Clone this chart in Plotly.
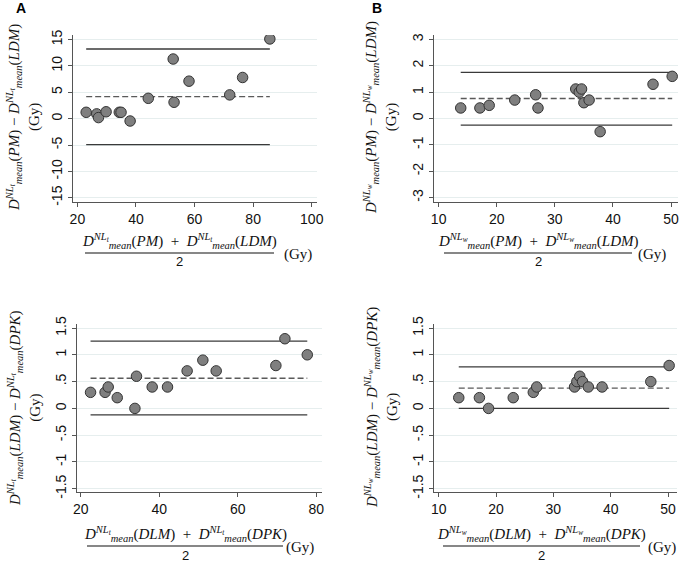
import plotly.graph_objects as go

W, H = 685, 562

# ---------------- data ----------------
# Panel A: NLt, PM vs LDM
a_mean_x = [23.0, 26.6, 27.2, 29.8, 34.3, 34.9, 38.0, 44.2, 52.7, 53.0, 58.1, 72.0, 76.4, 85.7]
a_diff_y = [1.2, 0.9, 0.2, 1.3, 1.2, 1.2, -0.45, 3.85, 11.3, 3.1, 7.1, 4.5, 7.8, 15.1]
a_limits = [13.2, 4.17, -4.93]  # upper LoA, mean bias, lower LoA

# Panel B: NLw, PM vs LDM
b_mean_x = [13.8, 17.1, 18.7, 23.1, 26.7, 27.1, 33.6, 34.2, 34.6, 35.0, 35.9, 37.8, 46.9, 50.2]
b_diff_y = [0.4, 0.4, 0.5, 0.7, 0.9, 0.4, 1.12, 1.0, 1.12, 0.6, 0.7, -0.5, 1.3, 1.6]
b_limits = [1.75, 0.76, -0.25]

# Panel C: NLt, LDM vs DPK
c_mean_x = [22.5, 26.2, 27.0, 29.3, 33.8, 34.2, 38.2, 42.1, 47.1, 51.1, 54.5, 69.7, 72.0, 77.7]
c_diff_y = [0.3, 0.3, 0.4, 0.2, 0.0, 0.6, 0.4, 0.4, 0.7, 0.9, 0.7, 0.8, 1.3, 1.0]
c_limits = [1.256, 0.5625, -0.12]

# Panel D: NLw, LDM vs DPK
d_mean_x = [13.5, 17.1, 18.7, 23.0, 26.5, 27.1, 33.7, 34.1, 34.6, 35.1, 36.1, 38.5, 47.0, 50.2]
d_diff_y = [0.2, 0.2, 0.0, 0.2, 0.3, 0.4, 0.4, 0.5, 0.6, 0.5, 0.4, 0.4, 0.5, 0.8]
d_limits = [0.775, 0.38, 0.0]

# tick labels
a_xticks = [20, 40, 60, 80, 100]
a_yticks = [-15, -10, -5, 0, 5, 10, 15]
a_yticktext = ["-15", "-10", "-5", "0", "5", "10", "15"]
b_xticks = [10, 20, 30, 40, 50]
b_yticks = [-3, -2, -1, 0, 1, 2, 3]
b_yticktext = ["-3", "-2", "-1", "0", "1", "2", "3"]
c_xticks = [20, 40, 60, 80]
cd_yticks = [-1.5, -1, -0.5, 0, 0.5, 1, 1.5]
cd_yticktext = ["-1.5", "-1", "-.5", "0", ".5", "1", "1.5"]
d_xticks = [10, 20, 30, 40, 50]

# ---------------- layout helpers ----------------
def px_x(p):
    return p / W

def px_y(p):
    return 1 - p / H

panels = [
    # (xs, ys, limits, xdomain px, ydomain px, xrange, yrange, xticks, yticks, yticktext)
    (a_mean_x, a_diff_y, a_limits, (73, 317), (35, 202), (18.5, 101.8), (-15.8, 15.85), a_xticks, a_yticks, a_yticktext),
    (b_mean_x, b_diff_y, b_limits, (434, 678), (35, 202), (9.2, 51.2), (-3.17, 3.17), b_xticks, b_yticks, b_yticktext),
    (c_mean_x, c_diff_y, c_limits, (77, 322), (324, 492), (19.05, 81.45), (-1.56, 1.575), c_xticks, cd_yticks, cd_yticktext),
    (d_mean_x, d_diff_y, d_limits, (434, 677), (324, 492), (9.18, 51.57), (-1.56, 1.575), d_xticks, cd_yticks, cd_yticktext),
]

AX_COLOR = "#555555"
GRID = "#e6eeee"
TICKFONT = dict(family="Liberation Sans, Arial, sans-serif", size=14, color="#111111")
MATHFONT = dict(family="Liberation Serif, DejaVu Serif, serif", size=15, color="#111111")

fig = go.Figure()
layout = dict(
    width=W, height=H,
    margin=dict(l=0, r=0, t=0, b=0, autoexpand=False),
    paper_bgcolor="white", plot_bgcolor="white",
    showlegend=False,
)

for i, (xs, ys, lim, xd, yd, xr, yr, xt, yt, ytt) in enumerate(panels, start=1):
    sfx = "" if i == 1 else str(i)
    xa, ya = "x" + sfx, "y" + sfx
    lo, hi = min(xs), max(xs)
    # limits of agreement (solid) and mean (dashed)
    for j, v in enumerate(lim):
        fig.add_trace(go.Scatter(
            x=[lo, hi], y=[v, v], mode="lines", xaxis=xa, yaxis=ya,
            line=dict(color="#3a3a3a" if j != 1 else "#5a5a5a", width=1.3,
                      dash="solid" if j != 1 else "6px,3px"),
            hoverinfo="skip"))
    fig.add_trace(go.Scatter(
        x=xs, y=ys, mode="markers", xaxis=xa, yaxis=ya,
        marker=dict(size=10.5, color="#7f7f7f", line=dict(color="#333333", width=1))))
    layout["xaxis" + sfx] = dict(
        domain=[px_x(xd[0]), px_x(xd[1])], range=list(xr), anchor=ya,
        tickvals=xt, ticks="outside", ticklen=4, tickcolor=AX_COLOR,
        showline=True, linecolor=AX_COLOR, linewidth=1, showgrid=False,
        zeroline=False, tickfont=TICKFONT, automargin=False)
    layout["yaxis" + sfx] = dict(
        domain=[px_y(yd[1]), px_y(yd[0])], range=list(yr), anchor=xa,
        tickvals=yt, ticktext=ytt, tickangle=-90, ticks="outside", ticklen=4,
        tickcolor=AX_COLOR, showline=True, linecolor=AX_COLOR, linewidth=1,
        showgrid=True, gridcolor=GRID, gridwidth=1, zeroline=False,
        tickfont=TICKFONT, automargin=False)


def dterm(sub, arg):
    return (f"<i>D</i><sup><i>NL</i><sub><i>{sub}</i></sub></sup>"
            f"<sub><i>mean</i></sub>(<i>{arg}</i>)")

annotations = []
shapes = []

# Panel letters
for letter, lx in (("A", 21), ("B", 377)):
    annotations.append(dict(text=f"<b>{letter}</b>", x=px_x(lx), y=px_y(8), xref="paper", yref="paper",
                            showarrow=False, xanchor="center", yanchor="middle",
                            font=dict(family="Liberation Sans, Arial", size=14, color="black")))

# Y titles
ytitles = [
    (dterm("t", "PM") + " − " + dterm("t", "LDM"), 23, 118),
    (dterm("w", "PM") + " − " + dterm("w", "LDM"), 380, 118),
    (dterm("t", "LDM") + " − " + dterm("t", "DPK"), 24, 408),
    (dterm("w", "LDM") + " − " + dterm("w", "DPK"), 381, 408),
]
for txt, cx, cy in ytitles:
    annotations.append(dict(text=txt + "<br>(Gy)", x=px_x(cx), y=px_y(cy), xref="paper", yref="paper",
                            textangle=-90, showarrow=False, xanchor="center", yanchor="middle",
                            align="center", font=MATHFONT))

# X titles (fraction)
xtitles = [
    (dterm("t", "PM") + "  +  " + dterm("t", "LDM"), 85, 274, 241, 253, 298),
    (dterm("w", "PM") + "  +  " + dterm("w", "LDM"), 444, 632, 241, 253, 652),
    (dterm("t", "DLM") + "  +  " + dterm("t", "DPK"), 87, 283, 534, 546, 300),
    (dterm("w", "DLM") + "  +  " + dterm("w", "DPK"), 443, 640, 534, 546, 662),
]
for txt, x0, x1, ny, by, gx in xtitles:
    cx = (x0 + x1) / 2
    annotations.append(dict(text=txt, x=px_x(cx), y=px_y(ny), xref="paper", yref="paper",
                            showarrow=False, xanchor="center", yanchor="middle", font=MATHFONT))
    shapes.append(dict(type="line", xref="paper", yref="paper", x0=px_x(x0), x1=px_x(x1),
                       y0=px_y(by), y1=px_y(by), line=dict(color="#111111", width=1.2)))
    annotations.append(dict(text="2", x=px_x(cx), y=px_y(by + 9), xref="paper", yref="paper",
                            showarrow=False, xanchor="center", yanchor="middle",
                            font=dict(family="Liberation Sans, Arial", size=13, color="#111111")))
    annotations.append(dict(text="(Gy)", x=px_x(gx), y=px_y(by + 1), xref="paper", yref="paper",
                            showarrow=False, xanchor="center", yanchor="middle", font=MATHFONT))

layout["annotations"] = annotations
layout["shapes"] = shapes
fig.update_layout(**layout)

fig.write_html("out.html",
               config={"displayModeBar": False},
               post_script="document.body.style.margin='0';document.body.style.overflow='hidden';")
